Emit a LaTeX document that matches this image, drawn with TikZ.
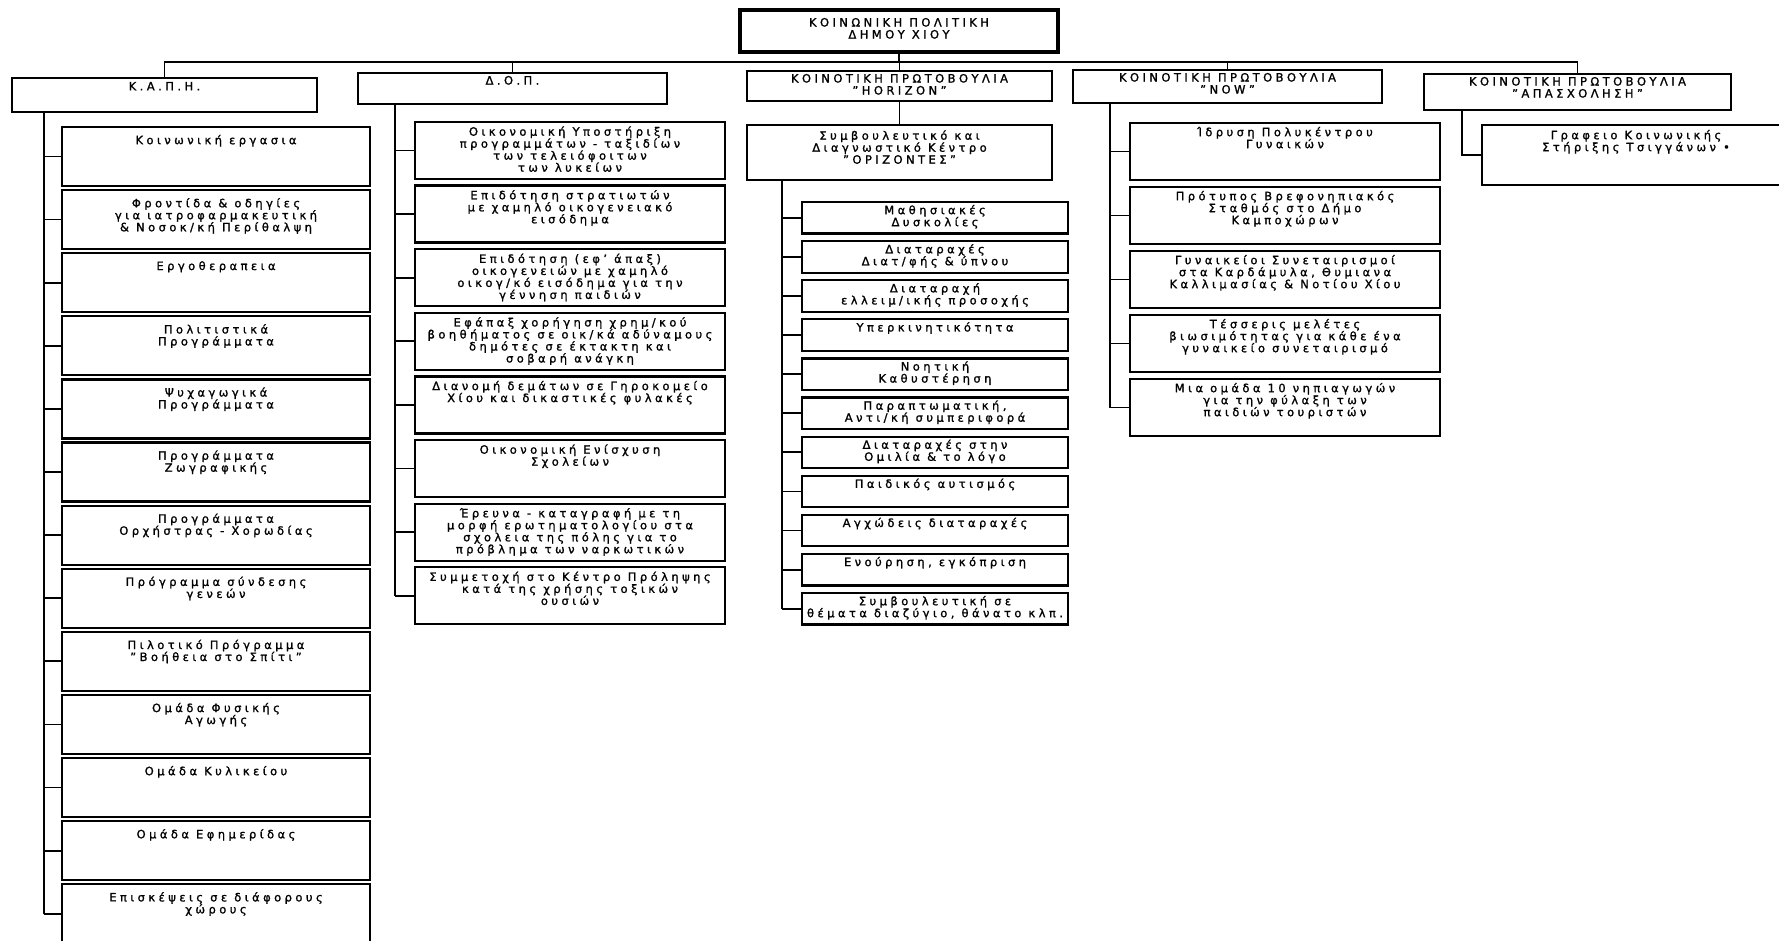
\documentclass[tikz,border=0pt]{standalone}
\usepackage{fontspec}
\setmainfont[LetterSpace=30,FakeBold=1.3]{DejaVu Sans}
\tikzset{
  bx/.style={draw, line width=2.2pt, inner sep=0pt, font=\fontsize{11.5}{12}\selectfont},
  topbx/.style={line width=4.5pt},
  conn/.style={line width=1.8pt},
}
\newcommand\tgap{4pt}
% \bx[extra]{name}{x1}{y1}{x2}{y2}{text}
\newcommand\bx[7][]{%
  \pgfmathsetmacro\bw{#5-#3}\pgfmathsetmacro\bh{#6-#4}%
  \pgfmathsetmacro\bcx{(#3+#5)/2}\pgfmathsetmacro\bcy{(#4+#6)/2}%
  \node[bx,#1,minimum width=\bw pt,minimum height=\bh pt] (#2) at (\bcx,\bcy)
    {\begin{minipage}[c][\bh pt][t]{\bw pt}\centering\vspace*{\tgap}#7\end{minipage}};}
\begin{document}
\begin{tikzpicture}[x=1pt,y=-1pt]
\clip (0,0) rectangle (1779,941);
\fill[white] (0,0) rectangle (1779,941);
% top
\renewcommand\tgap{8pt}
\bx[topbx]{top}{740}{10}{1058}{52}{ΚΟΙΝΩΝΙΚΗ ΠΟΛΙΤΙΚΗ\\ΔΗΜΟΥ ΧΙΟΥ}
% headers
\renewcommand\tgap{3pt}
\bx{kaph}{12}{78}{317}{112}{\vspace*{1pt}Κ.Α.Π.Η.}
\bx{dop}{358}{73}{667}{104}{Δ.Ο.Π.}
\bx{hor}{747}{71}{1052}{101}{ΚΟΙΝΟΤΙΚΗ ΠΡΩΤΟΒΟΥΛΙΑ\\"HORIZON"}
\bx{now}{1073}{70}{1382}{103}{ΚΟΙΝΟΤΙΚΗ ΠΡΩΤΟΒΟΥΛΙΑ\\"NOW"}
\bx{apa}{1424}{74}{1731}{110}{ΚΟΙΝΟΤΙΚΗ ΠΡΩΤΟΒΟΥΛΙΑ\\"ΑΠΑΣΧΟΛΗΣΗ"}
% bus
\coordinate (bus) at (0,62);
\draw[conn] (kaph.north) -- (kaph.north |- bus) -- (apa.north |- bus) -- (apa.north);
\foreach \n in {dop,hor,now} \draw[conn] (\n.north) -- (\n.north |- bus);
\draw[conn] (top.south) -- (top.south |- bus);

% K.A.P.H. column
\renewcommand\tgap{8pt}
\bx{k1}{62}{127}{370}{186}{Κοινωνική εργασια}
\bx{k2}{62}{190.1}{370}{249.1}{Φροντίδα \& οδηγίες\\για ιατροφαρμακευτική\\\& Νοσοκ/κή Περίθαλψη}
\bx{k3}{62}{253.2}{370}{312.2}{Εργοθεραπεια}
\bx{k4}{62}{316.3}{370}{375.3}{Πολιτιστικά\\Προγράμματα}
\bx{k5}{62}{379.4}{370}{438.4}{Ψυχαγωγικά\\Προγράμματα}
\bx{k6}{62}{442.5}{370}{501.5}{Προγράμματα\\Ζωγραφικής}
\bx{k7}{62}{505.6}{370}{564.6}{Προγράμματα\\Ορχήστρας - Χορωδίας}
\bx{k8}{62}{568.7}{370}{627.7}{Πρόγραμμα σύνδεσης\\γενεών}
\bx{k9}{62}{631.8}{370}{690.8}{Πιλοτικό Πρόγραμμα\\"Βοήθεια στο Σπίτι"}
\bx{k10}{62}{694.9}{370}{753.9}{Ομάδα Φυσικής\\Αγωγής}
\bx{k11}{62}{758}{370}{817}{Ομάδα Κυλικείου}
\bx{k12}{62}{821.1}{370}{880.1}{Ομάδα Εφημερίδας}
\bx{k13}{62}{884.2}{370}{943.2}{Επισκέψεις σε διάφορους\\χώρους}
\coordinate (kx) at (44,0);
\draw[conn] (kaph.south -| kx) -- (k13.west -| kx);
\foreach \i in {1,...,13} \draw[conn] (k\i.west) -- (k\i.west -| kx);

% D.O.P. column
\renewcommand\tgap{4.5pt}
\bx{d1}{415}{122}{725}{179}{Οικονομική Υποστήριξη\\προγραμμάτων - ταξιδίων\\των τελειόφοιτων\\των λυκείων}
\bx{d2}{415}{185.6}{725}{242.6}{Επιδότηση στρατιωτών\\με χαμηλό οικογενειακό\\εισόδημα}
\bx{d3}{415}{249.2}{725}{306.2}{Επιδότηση (εφ' άπαξ)\\οικογενειών με χαμηλό\\οικογ/κό εισόδημα για την\\γέννηση παιδιών}
\bx{d4}{415}{312.8}{725}{369.8}{Εφάπαξ χορήγηση χρημ/κού\\βοηθήματος σε οικ/κά αδύναμους\\δημότες σε έκτακτη και\\σοβαρή ανάγκη}
\bx{d5}{415}{376.4}{725}{433.4}{Διανομή δεμάτων σε Γηροκομείο\\Χίου και δικαστικές φυλακές}
\bx{d6}{415}{440}{725}{497}{Οικονομική Ενίσχυση\\Σχολείων}
\bx{d7}{415}{503.6}{725}{560.6}{Έρευνα - καταγραφή με τη\\μορφή ερωτηματολογίου στα\\σχολεια της πόλης για το\\πρόβλημα των ναρκωτικών}
\bx{d8}{415}{567.2}{725}{624.2}{Συμμετοχή στο Κέντρο Πρόληψης\\κατά της χρήσης τοξικών\\ουσιών}
\coordinate (dx) at (395,0);
\draw[conn] (dop.south -| dx) -- (d8.west -| dx);
\foreach \i in {1,...,8} \draw[conn] (d\i.west) -- (d\i.west -| dx);

% HORIZON column
\renewcommand\tgap{5.5pt}
\bx{hm}{747}{125}{1052}{180}{Συμβουλευτικό και\\Διαγνωστικό Κέντρο\\"ΟΡΙΖΟΝΤΕΣ"}
\draw[conn] (hor.south) -- (hm.north);
\renewcommand\tgap{3pt}
\bx{h1}{802}{202}{1068}{233.5}{Μαθησιακές\\Δυσκολίες}
\bx{h2}{802}{241.1}{1068}{272.6}{Διαταραχές\\Διατ/φής \& ύπνου}
\bx{h3}{802}{280.2}{1068}{311.7}{Διαταραχή\\ελλειμ/ικής προσοχής}
\bx{h4}{802}{319.3}{1068}{350.8}{Υπερκινητικότητα}
\bx{h5}{802}{358.4}{1068}{389.9}{Νοητική\\Καθυστέρηση}
\bx{h6}{802}{397.5}{1068}{429}{Παραπτωματική,\\Αντι/κή συμπεριφορά}
\bx{h7}{802}{436.6}{1068}{468.1}{Διαταραχές στην\\Ομιλία \& το λόγο}
\bx{h8}{802}{475.7}{1068}{507.2}{Παιδικός αυτισμός}
\bx{h9}{802}{514.8}{1068}{546.3}{Αγχώδεις διαταραχές}
\bx{h10}{802}{553.9}{1068}{585.4}{Ενούρηση, εγκόπριση}
\bx{h11}{802}{593}{1068}{624.5}{Συμβουλευτική σε\\θέματα διαζύγιο, θάνατο κλπ.}
\coordinate (hx) at (782,0);
\draw[conn] (hm.south -| hx) -- (h11.west -| hx);
\foreach \i in {1,...,11} \draw[conn] (h\i.west) -- (h\i.west -| hx);

% NOW column
\renewcommand\tgap{4pt}
\bx{n1}{1130}{123}{1440}{180}{Ίδρυση Πολυκέντρου\\Γυναικών}
\bx{n2}{1130}{187}{1440}{244}{Πρότυπος Βρεφονηπιακός\\Σταθμός στο Δήμο\\Καμποχώρων}
\bx{n3}{1130}{251}{1440}{308}{Γυναικείοι Συνεταιρισμοί\\στα Καρδάμυλα, Θυμιανα\\Καλλιμασίας \& Νοτίου Χίου}
\bx{n4}{1130}{315}{1440}{372}{Τέσσερις μελέτες\\βιωσιμότητας για κάθε ένα\\γυναικείο συνεταιρισμό}
\bx{n5}{1130}{379}{1440}{436}{Μια ομάδα 10 νηπιαγωγών\\για την φύλαξη των\\παιδιών τουριστών}
\coordinate (nx) at (1110,0);
\draw[conn] (now.south -| nx) -- (n5.west -| nx);
\foreach \i in {1,...,5} \draw[conn] (n\i.west) -- (n\i.west -| nx);

% APASXOLHSH column
\renewcommand\tgap{5pt}
\bx{a1}{1482}{125}{1790}{185}{Γραφειο Κοινωνικής\\Στήριξης Τσιγγάνων •}
\coordinate (ax) at (1462,0);
\draw[conn] (apa.south -| ax) |- (a1.west);
\end{tikzpicture}
\end{document}
